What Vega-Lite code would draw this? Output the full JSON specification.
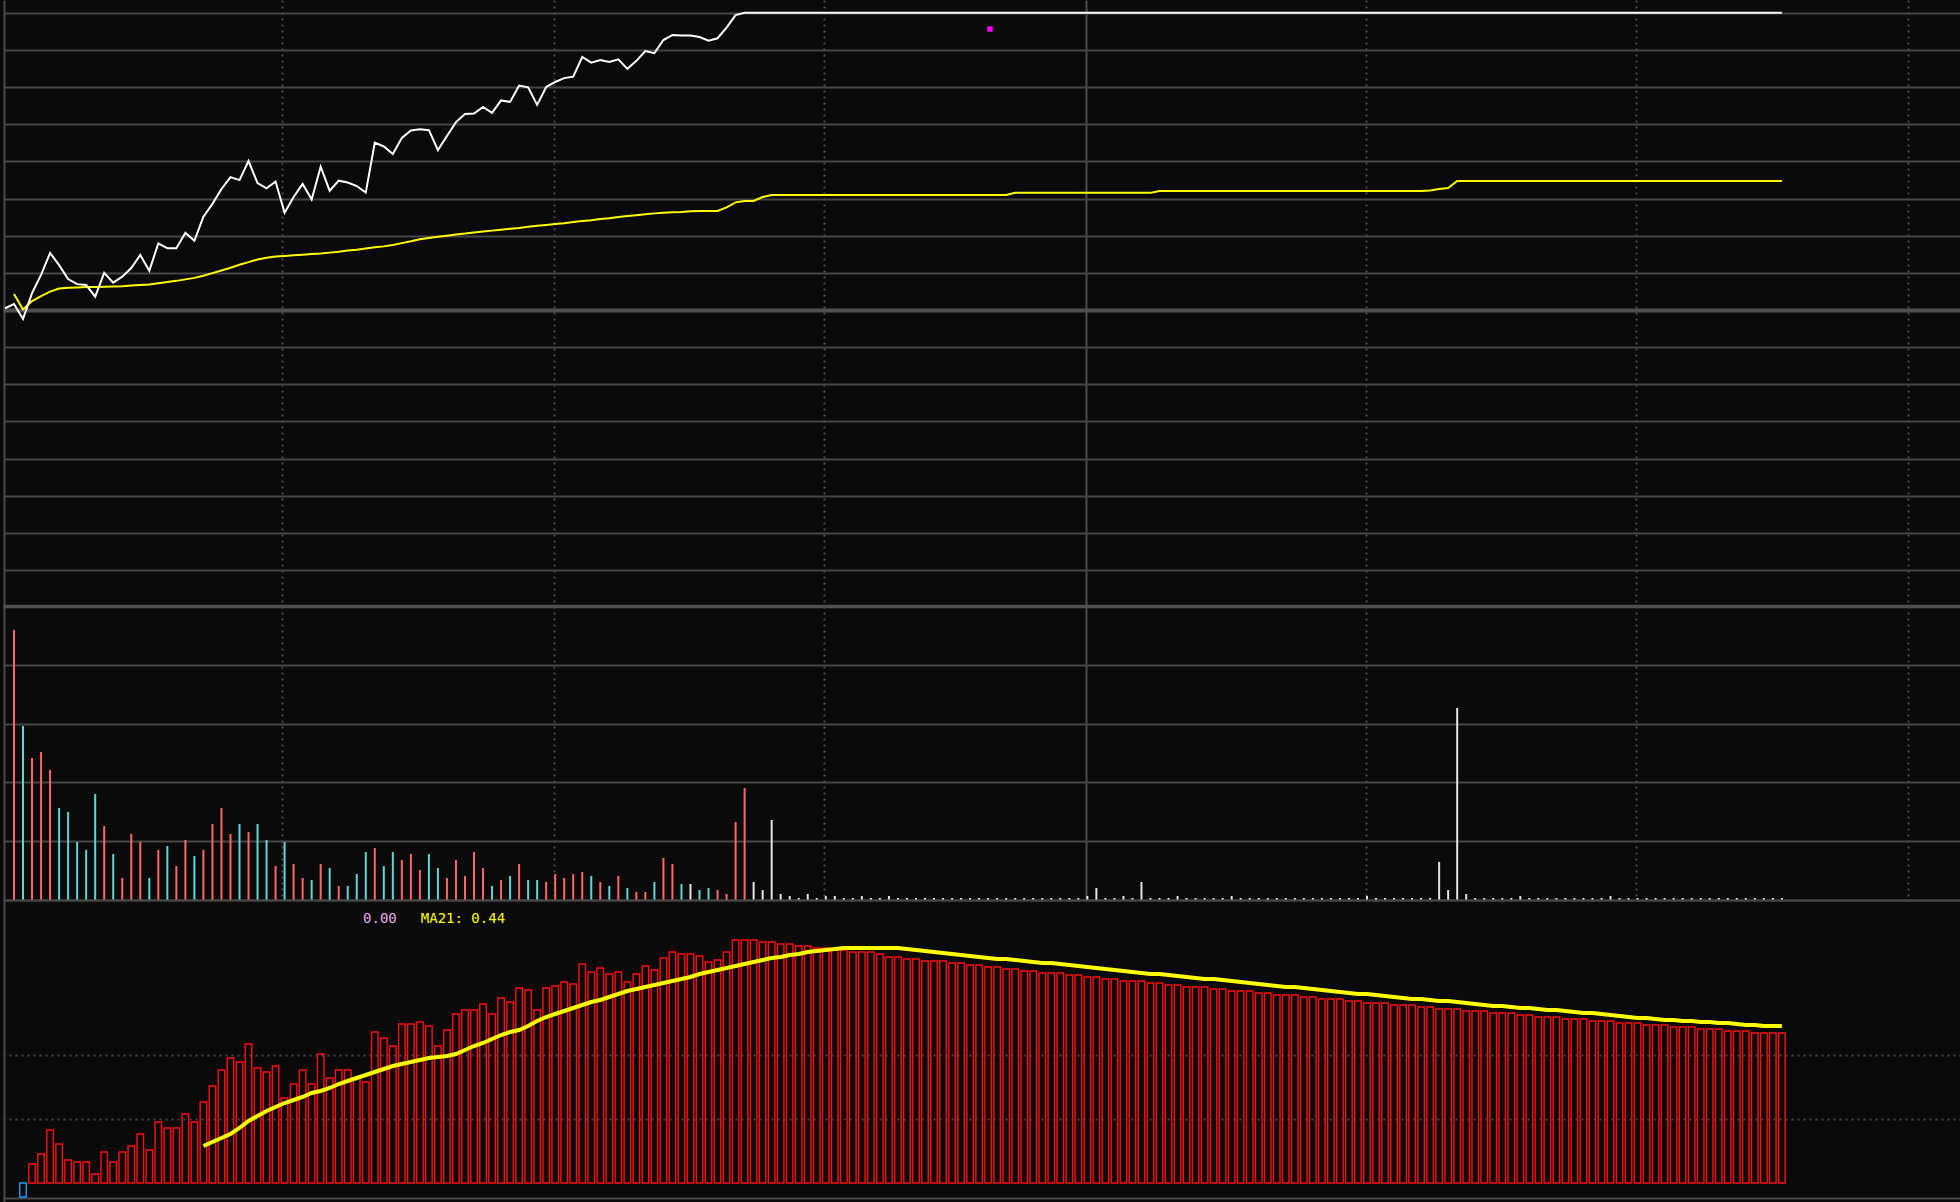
{
"$schema": "https://vega.github.io/schema/vega-lite/v6.json",
"background": "#0a0a0a",
"padding": 0,
"spacing": 0,
"bounds": "flush",
"config": {
  "view": {"stroke": null},
  "axis": {"labels": false, "ticks": false, "domain": false, "title": null, "grid": true, "gridColor": "#474747", "minExtent": 0, "maxExtent": 0}
},
"data": {"values": [
{"i":-1,"p":0.06},
{"i":0,"p":0.2,"a":0.54,"v":270,"c":"up"},
{"i":1,"p":-0.3,"a":0.02,"v":174,"c":"down","b":-14},
{"i":2,"p":0.57,"a":0.3,"v":142,"c":"up","b":19},
{"i":3,"p":1.18,"a":0.47,"v":148,"c":"up","b":29},
{"i":4,"p":1.92,"a":0.62,"v":130,"c":"up","b":53},
{"i":5,"p":1.51,"a":0.72,"v":92,"c":"down","b":39},
{"i":6,"p":1.04,"a":0.75,"v":88,"c":"down","b":23},
{"i":7,"p":0.87,"a":0.76,"v":58,"c":"down","b":21},
{"i":8,"p":0.84,"a":0.77,"v":50,"c":"down","b":21},
{"i":9,"p":0.45,"a":0.77,"v":106,"c":"down","b":9},
{"i":10,"p":1.25,"a":0.78,"v":74,"c":"up","b":31},
{"i":11,"p":0.92,"a":0.79,"v":46,"c":"down","b":21},
{"i":12,"p":1.12,"a":0.8,"v":22,"c":"up","b":31},
{"i":13,"p":1.41,"a":0.82,"v":66,"c":"up","b":37},
{"i":14,"p":1.85,"a":0.84,"v":58,"c":"up","b":49},
{"i":15,"p":1.32,"a":0.86,"v":22,"c":"down","b":33},
{"i":16,"p":2.24,"a":0.9,"v":50,"c":"up","b":61},
{"i":17,"p":2.08,"a":0.94,"v":54,"c":"down","b":55},
{"i":18,"p":2.08,"a":0.98,"v":34,"c":"up","b":55},
{"i":19,"p":2.6,"a":1.03,"v":60,"c":"up","b":69},
{"i":20,"p":2.33,"a":1.08,"v":44,"c":"down","b":61},
{"i":21,"p":3.14,"a":1.15,"v":50,"c":"up","b":81,"m":37},
{"i":22,"p":3.57,"a":1.24,"v":76,"c":"up","b":97,"m":41},
{"i":23,"p":4.07,"a":1.33,"v":92,"c":"up","b":113,"m":45},
{"i":24,"p":4.47,"a":1.42,"v":66,"c":"up","b":125,"m":49},
{"i":25,"p":4.37,"a":1.52,"v":76,"c":"down","b":121,"m":55},
{"i":26,"p":5.01,"a":1.61,"v":68,"c":"up","b":139,"m":62},
{"i":27,"p":4.27,"a":1.7,"v":76,"c":"down","b":115,"m":67},
{"i":28,"p":4.09,"a":1.76,"v":60,"c":"down","b":111,"m":72},
{"i":29,"p":4.32,"a":1.8,"v":34,"c":"up","b":117,"m":76},
{"i":30,"p":3.27,"a":1.82,"v":58,"c":"down","b":85,"m":80},
{"i":31,"p":3.8,"a":1.84,"v":36,"c":"up","b":99,"m":83},
{"i":32,"p":4.24,"a":1.86,"v":22,"c":"up","b":113,"m":86},
{"i":33,"p":3.72,"a":1.88,"v":20,"c":"down","b":99,"m":90},
{"i":34,"p":4.82,"a":1.9,"v":36,"c":"up","b":129,"m":92},
{"i":35,"p":4.01,"a":1.93,"v":32,"c":"down","b":105,"m":95},
{"i":36,"p":4.35,"a":1.96,"v":14,"c":"up","b":113,"m":99},
{"i":37,"p":4.29,"a":2.0,"v":14,"c":"down","b":113,"m":102},
{"i":38,"p":4.17,"a":2.03,"v":26,"c":"down","b":105,"m":105},
{"i":39,"p":3.95,"a":2.07,"v":48,"c":"down","b":101,"m":108},
{"i":40,"p":5.63,"a":2.11,"v":52,"c":"up","b":151,"m":111},
{"i":41,"p":5.5,"a":2.14,"v":34,"c":"down","b":145,"m":114},
{"i":42,"p":5.25,"a":2.19,"v":48,"c":"down","b":137,"m":117},
{"i":43,"p":5.79,"a":2.25,"v":40,"c":"up","b":159,"m":119},
{"i":44,"p":6.04,"a":2.31,"v":46,"c":"up","b":159,"m":121},
{"i":45,"p":6.08,"a":2.38,"v":30,"c":"up","b":161,"m":123},
{"i":46,"p":6.05,"a":2.42,"v":46,"c":"down","b":157,"m":125},
{"i":47,"p":5.38,"a":2.46,"v":32,"c":"down","b":137,"m":126},
{"i":48,"p":5.85,"a":2.5,"v":22,"c":"up","b":153,"m":127},
{"i":49,"p":6.32,"a":2.54,"v":40,"c":"up","b":169,"m":129},
{"i":50,"p":6.59,"a":2.57,"v":24,"c":"up","b":173,"m":133},
{"i":51,"p":6.61,"a":2.61,"v":48,"c":"up","b":173,"m":137},
{"i":52,"p":6.83,"a":2.64,"v":32,"c":"up","b":179,"m":140},
{"i":53,"p":6.63,"a":2.67,"v":14,"c":"down","b":169,"m":144},
{"i":54,"p":7.05,"a":2.7,"v":20,"c":"up","b":185,"m":148},
{"i":55,"p":7.0,"a":2.73,"v":24,"c":"down","b":181,"m":151},
{"i":56,"p":7.55,"a":2.76,"v":36,"c":"up","b":195,"m":153},
{"i":57,"p":7.49,"a":2.8,"v":20,"c":"down","b":193,"m":157},
{"i":58,"p":6.9,"a":2.83,"v":20,"c":"down","b":173,"m":162},
{"i":59,"p":7.5,"a":2.86,"v":18,"c":"up","b":195,"m":166},
{"i":60,"p":7.67,"a":2.89,"v":26,"c":"up","b":197,"m":169},
{"i":61,"p":7.8,"a":2.92,"v":22,"c":"up","b":201,"m":172},
{"i":62,"p":7.85,"a":2.96,"v":26,"c":"up","b":199,"m":175},
{"i":63,"p":8.51,"a":2.99,"v":28,"c":"up","b":219,"m":178},
{"i":64,"p":8.32,"a":3.02,"v":24,"c":"down","b":211,"m":181},
{"i":65,"p":8.41,"a":3.06,"v":18,"c":"up","b":215,"m":183},
{"i":66,"p":8.34,"a":3.09,"v":14,"c":"down","b":209,"m":186},
{"i":67,"p":8.43,"a":3.13,"v":24,"c":"up","b":211,"m":189},
{"i":68,"p":8.11,"a":3.16,"v":12,"c":"down","b":201,"m":192},
{"i":69,"p":8.38,"a":3.19,"v":8,"c":"up","b":209,"m":194},
{"i":70,"p":8.71,"a":3.22,"v":8,"c":"up","b":217,"m":196},
{"i":71,"p":8.64,"a":3.25,"v":18,"c":"down","b":213,"m":198},
{"i":72,"p":9.08,"a":3.27,"v":42,"c":"up","b":225,"m":200},
{"i":73,"p":9.25,"a":3.29,"v":36,"c":"up","b":231,"m":202},
{"i":74,"p":9.23,"a":3.3,"v":16,"c":"down","b":229,"m":204},
{"i":75,"p":9.23,"a":3.32,"v":16,"c":"flat","b":229,"m":206},
{"i":76,"p":9.18,"a":3.33,"v":10,"c":"down","b":227,"m":209},
{"i":77,"p":9.06,"a":3.33,"v":12,"c":"down","b":221,"m":211},
{"i":78,"p":9.14,"a":3.33,"v":10,"c":"up","b":223,"m":213},
{"i":79,"p":9.5,"a":3.45,"v":6,"c":"up","b":231,"m":215},
{"i":80,"p":9.92,"a":3.62,"v":78,"c":"up","b":243,"m":217},
{"i":81,"p":10,"a":3.67,"v":112,"c":"up","b":243,"m":219},
{"i":82,"p":10,"a":3.67,"v":18,"c":"flat","b":243,"m":221},
{"i":83,"p":10,"a":3.8,"v":10,"c":"flat","b":241,"m":223},
{"i":84,"p":10,"a":3.87,"v":80,"c":"flat","b":241,"m":225},
{"i":85,"p":10,"a":3.87,"v":6,"c":"flat","b":239,"m":226},
{"i":86,"p":10,"a":3.87,"v":4,"c":"flat","b":239,"m":228},
{"i":87,"p":10,"a":3.87,"v":2,"c":"flat","b":237,"m":229},
{"i":88,"p":10,"a":3.87,"v":6,"c":"flat","b":237,"m":231},
{"i":89,"p":10,"a":3.87,"v":2,"c":"flat","b":235,"m":232},
{"i":90,"p":10,"a":3.87,"v":4,"c":"flat","b":235,"m":233},
{"i":91,"p":10,"a":3.87,"v":4,"c":"flat","b":233,"m":234},
{"i":92,"p":10,"a":3.87,"v":2,"c":"flat","b":233,"m":235},
{"i":93,"p":10,"a":3.87,"v":2,"c":"flat","b":231,"m":235},
{"i":94,"p":10,"a":3.87,"v":4,"c":"flat","b":231,"m":235},
{"i":95,"p":10,"a":3.87,"v":2,"c":"flat","b":231,"m":235},
{"i":96,"p":10,"a":3.87,"v":2,"c":"flat","b":229,"m":235},
{"i":97,"p":10,"a":3.87,"v":4,"c":"flat","b":226,"m":235},
{"i":98,"p":10,"a":3.87,"v":2,"c":"flat","b":226,"m":235},
{"i":99,"p":10,"a":3.87,"v":2,"c":"flat","b":224,"m":234},
{"i":100,"p":10,"a":3.87,"v":2,"c":"flat","b":224,"m":233},
{"i":101,"p":10,"a":3.87,"v":2,"c":"flat","b":222,"m":232},
{"i":102,"p":10,"a":3.87,"v":2,"c":"flat","b":222,"m":231},
{"i":103,"p":10,"a":3.87,"v":2,"c":"flat","b":222,"m":230},
{"i":104,"p":10,"a":3.87,"v":2,"c":"flat","b":220,"m":229},
{"i":105,"p":10,"a":3.87,"v":2,"c":"flat","b":220,"m":228},
{"i":106,"p":10,"a":3.87,"v":2,"c":"flat","b":218,"m":227},
{"i":107,"p":10,"a":3.87,"v":2,"c":"flat","b":218,"m":226},
{"i":108,"p":10,"a":3.87,"v":2,"c":"flat","b":216,"m":225},
{"i":109,"p":10,"a":3.87,"v":2,"c":"flat","b":216,"m":224},
{"i":110,"p":10,"a":3.87,"v":2,"c":"flat","b":214,"m":224},
{"i":111,"p":10,"a":3.94,"v":2,"c":"flat","b":214,"m":223},
{"i":112,"p":10,"a":3.94,"v":2,"c":"flat","b":212,"m":222},
{"i":113,"p":10,"a":3.94,"v":2,"c":"flat","b":212,"m":221},
{"i":114,"p":10,"a":3.94,"v":2,"c":"flat","b":210,"m":220},
{"i":115,"p":10,"a":3.94,"v":2,"c":"flat","b":210,"m":220},
{"i":116,"p":10,"a":3.94,"v":2,"c":"flat","b":210,"m":219},
{"i":117,"p":10,"a":3.94,"v":2,"c":"flat","b":208,"m":218},
{"i":118,"p":10,"a":3.94,"v":2,"c":"flat","b":208,"m":217},
{"i":119,"p":10,"a":3.94,"v":4,"c":"flat","b":206,"m":216},
{"i":120,"p":10,"a":3.94,"v":12,"c":"flat","b":206,"m":215},
{"i":121,"p":10,"a":3.94,"v":2,"c":"flat","b":204,"m":214},
{"i":122,"p":10,"a":3.94,"v":2,"c":"flat","b":204,"m":213},
{"i":123,"p":10,"a":3.94,"v":4,"c":"flat","b":202,"m":212},
{"i":124,"p":10,"a":3.94,"v":2,"c":"flat","b":202,"m":211},
{"i":125,"p":10,"a":3.94,"v":18,"c":"flat","b":202,"m":210},
{"i":126,"p":10,"a":3.94,"v":2,"c":"flat","b":200,"m":209},
{"i":127,"p":10,"a":4.0,"v":2,"c":"flat","b":200,"m":209},
{"i":128,"p":10,"a":4.0,"v":2,"c":"flat","b":198,"m":208},
{"i":129,"p":10,"a":4.0,"v":4,"c":"flat","b":198,"m":207},
{"i":130,"p":10,"a":4.0,"v":2,"c":"flat","b":196,"m":206},
{"i":131,"p":10,"a":4.0,"v":2,"c":"flat","b":196,"m":205},
{"i":132,"p":10,"a":4.0,"v":2,"c":"flat","b":196,"m":204},
{"i":133,"p":10,"a":4.0,"v":2,"c":"flat","b":194,"m":204},
{"i":134,"p":10,"a":4.0,"v":2,"c":"flat","b":194,"m":203},
{"i":135,"p":10,"a":4.0,"v":4,"c":"flat","b":192,"m":202},
{"i":136,"p":10,"a":4.0,"v":2,"c":"flat","b":192,"m":201},
{"i":137,"p":10,"a":4.0,"v":2,"c":"flat","b":192,"m":200},
{"i":138,"p":10,"a":4.0,"v":2,"c":"flat","b":190,"m":199},
{"i":139,"p":10,"a":4.0,"v":2,"c":"flat","b":190,"m":198},
{"i":140,"p":10,"a":4.0,"v":2,"c":"flat","b":188,"m":197},
{"i":141,"p":10,"a":4.0,"v":2,"c":"flat","b":188,"m":196},
{"i":142,"p":10,"a":4.0,"v":2,"c":"flat","b":188,"m":196},
{"i":143,"p":10,"a":4.0,"v":2,"c":"flat","b":186,"m":195},
{"i":144,"p":10,"a":4.0,"v":2,"c":"flat","b":186,"m":194},
{"i":145,"p":10,"a":4.0,"v":2,"c":"flat","b":184,"m":193},
{"i":146,"p":10,"a":4.0,"v":2,"c":"flat","b":184,"m":192},
{"i":147,"p":10,"a":4.0,"v":2,"c":"flat","b":184,"m":191},
{"i":148,"p":10,"a":4.0,"v":2,"c":"flat","b":182,"m":190},
{"i":149,"p":10,"a":4.0,"v":2,"c":"flat","b":182,"m":189},
{"i":150,"p":10,"a":4.0,"v":4,"c":"flat","b":180,"m":189},
{"i":151,"p":10,"a":4.0,"v":2,"c":"flat","b":180,"m":188},
{"i":152,"p":10,"a":4.0,"v":2,"c":"flat","b":180,"m":187},
{"i":153,"p":10,"a":4.0,"v":2,"c":"flat","b":178,"m":186},
{"i":154,"p":10,"a":4.0,"v":2,"c":"flat","b":178,"m":185},
{"i":155,"p":10,"a":4.0,"v":2,"c":"flat","b":178,"m":184},
{"i":156,"p":10,"a":4.0,"v":2,"c":"flat","b":176,"m":184},
{"i":157,"p":10,"a":4.02,"v":2,"c":"flat","b":176,"m":183},
{"i":158,"p":10,"a":4.07,"v":38,"c":"flat","b":174,"m":182},
{"i":159,"p":10,"a":4.1,"v":10,"c":"flat","b":174,"m":182},
{"i":160,"p":10,"a":4.34,"v":192,"c":"flat","b":174,"m":181},
{"i":161,"p":10,"a":4.34,"v":6,"c":"flat","b":172,"m":180},
{"i":162,"p":10,"a":4.34,"v":2,"c":"flat","b":172,"m":179},
{"i":163,"p":10,"a":4.34,"v":2,"c":"flat","b":172,"m":178},
{"i":164,"p":10,"a":4.34,"v":2,"c":"flat","b":170,"m":177},
{"i":165,"p":10,"a":4.34,"v":2,"c":"flat","b":170,"m":177},
{"i":166,"p":10,"a":4.34,"v":2,"c":"flat","b":170,"m":176},
{"i":167,"p":10,"a":4.34,"v":4,"c":"flat","b":168,"m":175},
{"i":168,"p":10,"a":4.34,"v":2,"c":"flat","b":168,"m":175},
{"i":169,"p":10,"a":4.34,"v":2,"c":"flat","b":166,"m":174},
{"i":170,"p":10,"a":4.34,"v":2,"c":"flat","b":166,"m":173},
{"i":171,"p":10,"a":4.34,"v":2,"c":"flat","b":166,"m":173},
{"i":172,"p":10,"a":4.34,"v":2,"c":"flat","b":164,"m":172},
{"i":173,"p":10,"a":4.34,"v":2,"c":"flat","b":164,"m":171},
{"i":174,"p":10,"a":4.34,"v":2,"c":"flat","b":164,"m":170},
{"i":175,"p":10,"a":4.34,"v":2,"c":"flat","b":162,"m":170},
{"i":176,"p":10,"a":4.34,"v":2,"c":"flat","b":162,"m":169},
{"i":177,"p":10,"a":4.34,"v":4,"c":"flat","b":162,"m":168},
{"i":178,"p":10,"a":4.34,"v":2,"c":"flat","b":160,"m":167},
{"i":179,"p":10,"a":4.34,"v":2,"c":"flat","b":160,"m":166},
{"i":180,"p":10,"a":4.34,"v":2,"c":"flat","b":160,"m":165},
{"i":181,"p":10,"a":4.34,"v":2,"c":"flat","b":158,"m":165},
{"i":182,"p":10,"a":4.34,"v":2,"c":"flat","b":158,"m":164},
{"i":183,"p":10,"a":4.34,"v":2,"c":"flat","b":158,"m":163},
{"i":184,"p":10,"a":4.34,"v":2,"c":"flat","b":156,"m":163},
{"i":185,"p":10,"a":4.34,"v":2,"c":"flat","b":156,"m":162},
{"i":186,"p":10,"a":4.34,"v":2,"c":"flat","b":156,"m":162},
{"i":187,"p":10,"a":4.34,"v":2,"c":"flat","b":154,"m":161},
{"i":188,"p":10,"a":4.34,"v":2,"c":"flat","b":154,"m":161},
{"i":189,"p":10,"a":4.34,"v":2,"c":"flat","b":154,"m":160},
{"i":190,"p":10,"a":4.34,"v":2,"c":"flat","b":152,"m":160},
{"i":191,"p":10,"a":4.34,"v":2,"c":"flat","b":152,"m":159},
{"i":192,"p":10,"a":4.34,"v":2,"c":"flat","b":152,"m":158},
{"i":193,"p":10,"a":4.34,"v":2,"c":"flat","b":150,"m":158},
{"i":194,"p":10,"a":4.34,"v":2,"c":"flat","b":150,"m":157},
{"i":195,"p":10,"a":4.34,"v":2,"c":"flat","b":150,"m":157},
{"i":196,"p":10,"a":4.34,"v":2,"c":"flat","b":150,"m":157}
]},
"vconcat": [
{
  "width": 1960, "height": 606,
  "encoding": {
    "x": {"field": "i", "type": "quantitative", "scale": {"domain": [-1.2195, 216.08], "nice": false, "zero": false, "padding": 0},
      "axis": {"values": [-1.109, 29.71, 59.87, 89.8, 118.85, 149.89, 179.82, 209.98],
        "gridDash": {"condition": {"test": "datum.value < 0 || abs(datum.value - 118.85) < 0.1", "value": []}, "value": [2, 4]},
        "gridWidth": 2, "gridColor": "#4a4a4a"}}
  },
  "layer": [
    {"mark": {"type": "line", "color": "#ffff00", "strokeWidth": 2},
     "transform": [{"filter": "isValid(datum.a)"}],
     "encoding": {"y": {"field": "a", "type": "quantitative",
       "scale": {"domain": [-9.956, 10.427], "nice": false, "zero": false},
       "axis": {"values": [10, 8.75, 7.5, 6.25, 5, 3.75, 2.5, 1.25, 0, -1.25, -2.5, -3.75, -5, -6.25, -7.5, -8.75],
         "gridWidth": {"condition": {"test": "datum.value === 0", "value": 4}, "value": 2.2},
         "gridColor": {"condition": {"test": "datum.value === 0", "value": "#505050"}, "value": "#464646"}}}}},
    {"mark": {"type": "line", "color": "#ffffff", "strokeWidth": 2},
     "encoding": {"y": {"field": "p", "type": "quantitative"}}},
    {"data": {"values": [{"i": 108.2, "p": 9.45}]},
     "mark": {"type": "square", "color": "#ff00ff", "filled": true, "opacity": 1, "size": 30},
     "encoding": {"y": {"field": "p", "type": "quantitative"}}}
  ]
},
{
  "width": 1960, "height": 294,
  "transform": [{"filter": "isValid(datum.v)"}],
  "mark": {"type": "rule", "strokeWidth": 2},
  "encoding": {
    "x": {"field": "i", "type": "quantitative", "scale": {"domain": [-1.2195, 216.08], "nice": false, "zero": false, "padding": 0},
      "axis": {"values": [-1.109, 29.71, 59.87, 89.8, 118.85, 149.89, 179.82, 209.98],
        "gridDash": {"condition": {"test": "datum.value < 0 || abs(datum.value - 118.85) < 0.1", "value": []}, "value": [2, 4]},
        "gridWidth": 2, "gridColor": "#4a4a4a"}},
    "y": {"field": "v", "type": "quantitative", "scale": {"domain": [0, 294], "nice": false},
      "axis": {"values": [0, 58.8, 117.6, 176.4, 235.2, 294],
        "gridWidth": {"condition": {"test": "datum.value === 294", "value": 3.5}, "value": 2.2},
        "gridColor": {"condition": {"test": "datum.value === 294", "value": "#505050"}, "value": "#464646"}}},
    "y2": {"datum": 0},
    "color": {"field": "c", "type": "nominal", "legend": null,
      "scale": {"domain": ["up", "down", "flat"], "range": ["#ff6666", "#5fd5d5", "#e4e4e4"]}}
  }
},
{
  "width": 1960, "height": 302,
  "encoding": {
    "x": {"field": "i", "type": "quantitative", "scale": {"domain": [-1.2195, 216.08], "nice": false, "zero": false, "padding": 0},
      "axis": {"values": [-1.109], "gridWidth": 2, "gridColor": "#4a4a4a"}}
  },
  "layer": [
    {"transform": [{"filter": "isValid(datum.b)"}],
     "mark": {"type": "bar", "width": 6.5, "fill": "transparent", "strokeWidth": 1.4},
     "encoding": {
       "y": {"field": "b", "type": "quantitative", "scale": {"domain": [-19, 283], "nice": false, "zero": false},
         "axis": {"values": [283, 128, 64, -15],
           "gridDash": {"condition": {"test": "datum.value === 64 || datum.value === 128", "value": [2, 4]}, "value": []},
           "gridWidth": 2, "gridColor": "#464646"}},
       "y2": {"datum": 0},
       "stroke": {"condition": {"test": "datum.b < 0", "value": "#1aa0ff"}, "value": "#ff0d0d"}
     }},
    {"transform": [{"filter": "isValid(datum.m)"}],
     "mark": {"type": "line", "color": "#ffff00", "strokeWidth": 4},
     "encoding": {"y": {"field": "m", "type": "quantitative"}}},
    {"data": {"values": [{"t": "0.00", "i": 38.7, "ly": 264}]},
     "mark": {"type": "text", "font": "DejaVu Sans Mono", "fontSize": 14, "align": "left", "baseline": "middle", "color": "#e8a8e8"},
     "encoding": {
       "y": {"field": "ly", "type": "quantitative"},
       "text": {"field": "t", "type": "nominal"}}},
    {"data": {"values": [{"t": "MA21: 0.44", "i": 45.1, "ly": 264}]},
     "mark": {"type": "text", "font": "DejaVu Sans Mono", "fontSize": 14, "align": "left", "baseline": "middle", "color": "#ffff00"},
     "encoding": {
       "y": {"field": "ly", "type": "quantitative"},
       "text": {"field": "t", "type": "nominal"}}}
  ]
}
]
}
